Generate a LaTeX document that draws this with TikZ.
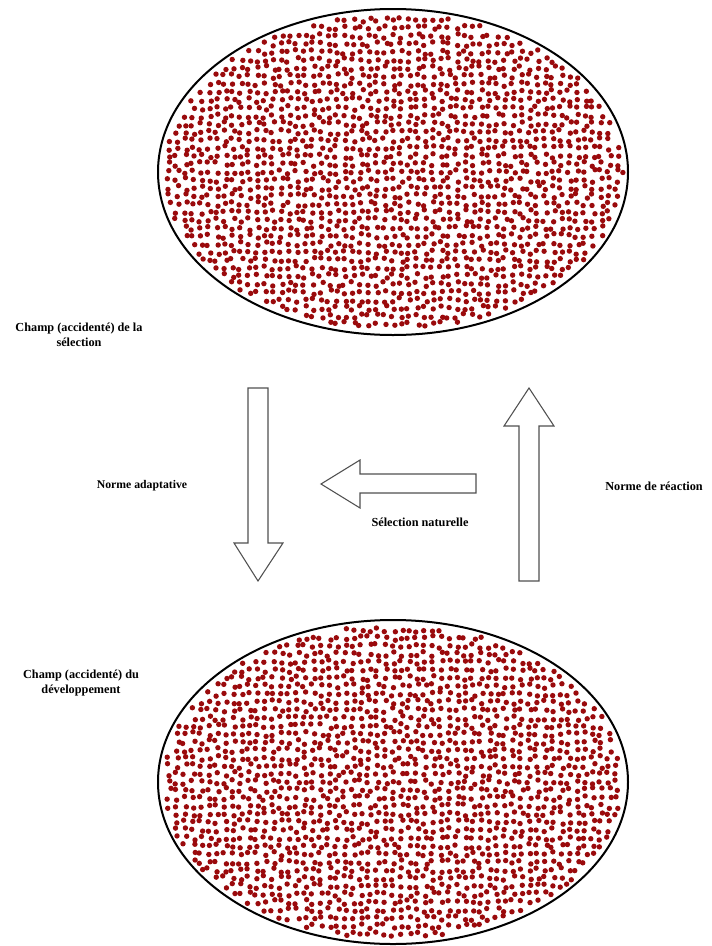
\documentclass[tikz,border=0pt]{standalone}
\usepackage{fontspec}
\setmainfont{Liberation Serif}
\usetikzlibrary{positioning}
\definecolor{grainred}{HTML}{9A0A0C}
\definecolor{arrowgrey}{HTML}{505050}
\tikzset{
  field/.style={draw=black, line width=1.5pt},
  grain/.style={fill=grainred},
  blockarr/.style={draw=arrowgrey, line width=0.8pt, fill=white, line join=miter},
  lbl/.style={font=\bfseries\fontsize{9.2}{11}\selectfont, align=center},
}
\begin{document}
\begin{tikzpicture}[x=0.75pt, y=-0.75pt]
  \useasboundingbox (0,0) rectangle (712,946);
  \pgfmathsetseed{7}
  % the two fields, filled with jittered grains
  \foreach \cy/\ry in {172/163, 782/162} {
    \foreach \i in {-29,...,29} {
      \foreach \j in {-20,...,20} {
        \pgfmathsetmacro\dx{\i*8 + 2.4*rand}
        \pgfmathsetmacro\dy{\j*8 + 2.4*rand}
        \pgfmathsetmacro\inside{(\dx/230)^2 + (\dy/(\ry-5))^2}
        \ifdim\inside pt<1pt
          \fill[grain] (393+\dx, \cy+\dy) circle (2.7);
        \fi
      }
    }
    \draw[field] (393,\cy) ellipse (235 and \ry);
  }
  % block arrows
  \draw[blockarr] (248,388) -- (268,388) -- (268,543) -- (283,543) -- (258,581) -- (234,543) -- (248,543) -- cycle;
  \draw[blockarr] (519,581) -- (539,581) -- (539,426) -- (554,426) -- (529,388) -- (504,426) -- (519,426) -- cycle;
  \draw[blockarr] (476,474) -- (360,474) -- (360,460) -- (321,484) -- (360,508) -- (360,493) -- (476,493) -- cycle;
  % labels
  \node[lbl] (selfield) at (79,335) {Champ (accidenté) de la\\sélection};
  \node[lbl, font=\bfseries\fontsize{8.8}{11}\selectfont] (adapt) at (142,486) {Norme adaptative};
  \node[lbl] (natsel) at (420,522) {Sélection naturelle};
  \node[lbl] (reaction) at (654,486) {Norme de réaction};
  \node[lbl] (devfield) at (81,683) {Champ (accidenté) du\\développement};
\end{tikzpicture}
\end{document}
